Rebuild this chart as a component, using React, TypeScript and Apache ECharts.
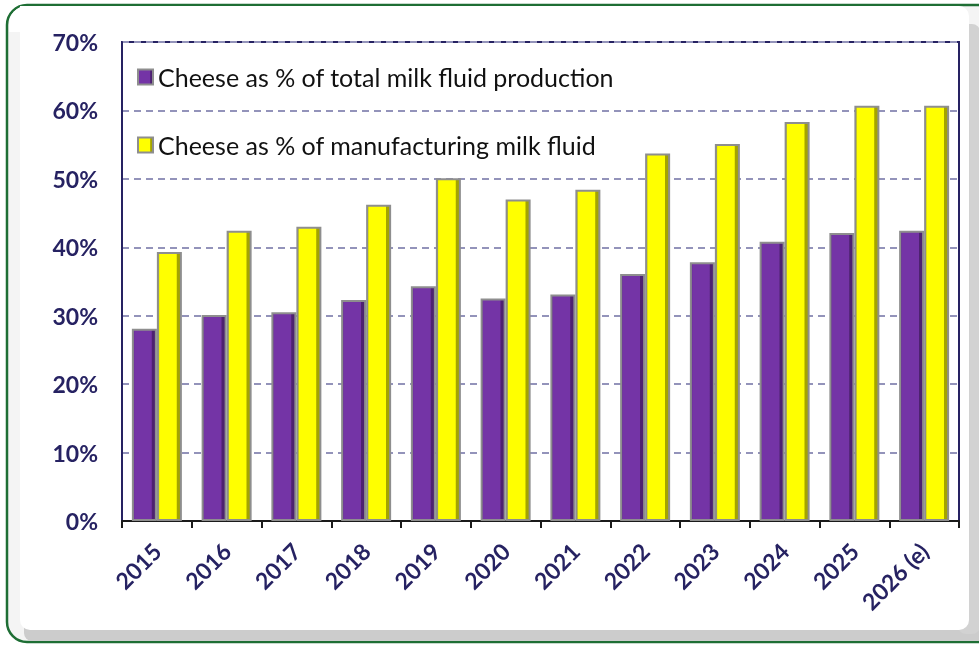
import React, { useEffect, useRef } from "react";
import * as echarts from "echarts";

const categories = ["2015", "2016", "2017", "2018", "2019", "2020", "2021", "2022", "2023", "2024", "2025", "2026 (e)"];
const totalMilkShare = [28.1, 30.1, 30.5, 32.3, 34.3, 32.5, 33.1, 36.1, 37.8, 40.8, 42.1, 42.4];
const manufacturingMilkShare = [39.3, 42.4, 43.0, 46.2, 50.1, 47.0, 48.4, 53.7, 55.1, 58.3, 60.7, 60.7];
const seriesNames = ["Cheese as % of total milk fluid production", "Cheese as % of manufacturing milk fluid"];
const yMax = 70;
const yStep = 10;

const navy = "#262262";

function barFill(main: string, dark: string) {
  return new echarts.graphic.LinearGradient(0, 0, 1, 0, [
    { offset: 0, color: dark },
    { offset: 0.08, color: main },
    { offset: 0.8, color: main },
    { offset: 0.84, color: dark },
    { offset: 1, color: dark },
  ]);
}

export default function App() {
  const ref = useRef<HTMLDivElement>(null);
  useEffect(() => {
    if (!ref.current) return;
    const chart = echarts.init(ref.current, null, { renderer: "svg" });
    chart.setOption({
      animation: false,
      backgroundColor: "transparent",
      graphic: [
        {
          type: "rect",
          z: -100,
          silent: true,
          shape: { x: 7, y: 5, width: 990, height: 637, r: 20 },
          style: { fill: "#f4f4f4", stroke: "#1e6e34", lineWidth: 2.5 },
        },
        {
          type: "rect",
          z: -99,
          silent: true,
          shape: { x: 24, y: 620, width: 960, height: 21, r: 8 },
          style: { fill: "#cccccc" },
        },
        {
          type: "rect",
          z: -99,
          silent: true,
          shape: { x: 958, y: 24, width: 22, height: 610, r: 8 },
          style: { fill: "#d2d2d2" },
        },
        {
          type: "rect",
          z: -98,
          silent: true,
          shape: { x: 20, y: 6, width: 949, height: 624, r: [0, 10, 10, 10] },
          style: { fill: "#ffffff" },
        },
        {
          type: "rect",
          z: -98,
          silent: true,
          shape: { x: 9, y: 6, width: 30, height: 26, r: [18, 0, 0, 0] },
          style: { fill: "#ffffff" },
        },
      ],
      grid: {
        left: 122,
        right: 20,
        top: 42,
        bottom: 124,
        show: true,
        borderColor: navy,
        borderWidth: 2,
        backgroundColor: "transparent",
      },
      legend: {
        orient: "vertical",
        left: 137,
        top: 63,
        padding: 0,
        itemWidth: 15,
        itemHeight: 15,
        itemGap: 40,
        icon: "rect",
        textStyle: {
          fontFamily: "Lato",
          fontSize: 25,
          color: "#111111",
          lineHeight: 28,
          padding: [0, 0, 0, 0],
        },
        data: seriesNames,
      },
      xAxis: {
        type: "category",
        data: categories,
        axisLine: { lineStyle: { color: "#1a1a1a", width: 2 } },
        axisTick: { show: true, alignWithLabel: false, length: 7, lineStyle: { color: "#1a1a1a", width: 2 } },
        axisLabel: {
          rotate: 45,
          margin: 26,
          interval: 0,
          fontFamily: "Lato",
          fontWeight: "bold",
          fontSize: 23,
          color: navy,
        },
      },
      yAxis: {
        type: "value",
        min: 0,
        max: yMax,
        interval: yStep,
        axisLine: { show: true, lineStyle: { color: navy, width: 2 } },
        axisTick: { show: false },
        splitLine: { lineStyle: { color: "#9393ba", width: 2, type: [7, 5] } },
        axisLabel: {
          formatter: "{value}%",
          margin: 24,
          fontFamily: "Lato",
          fontWeight: "bold",
          fontSize: 23,
          color: navy,
        },
      },
      series: [
        {
          name: seriesNames[0],
          type: "bar",
          data: totalMilkShare,
          barWidth: 25,
          barGap: "0%",
          itemStyle: {
            color: barFill("#7434a6", "#4d2270"),
            borderColor: "#8e8e8e",
            borderWidth: 2,
          },
        },
        {
          name: seriesNames[1],
          type: "bar",
          data: manufacturingMilkShare,
          barWidth: 25,
          barGap: "0%",
          itemStyle: {
            color: barFill("#ffff00", "#a3a300"),
            borderColor: "#8e8e8e",
            borderWidth: 2,
          },
        },
      ],
    });
    return () => chart.dispose();
  }, []);
  return (
    <div
      ref={ref}
      style={{ position: "fixed", left: 0, top: 0, width: 979, height: 645 }}
    />
  );
}
